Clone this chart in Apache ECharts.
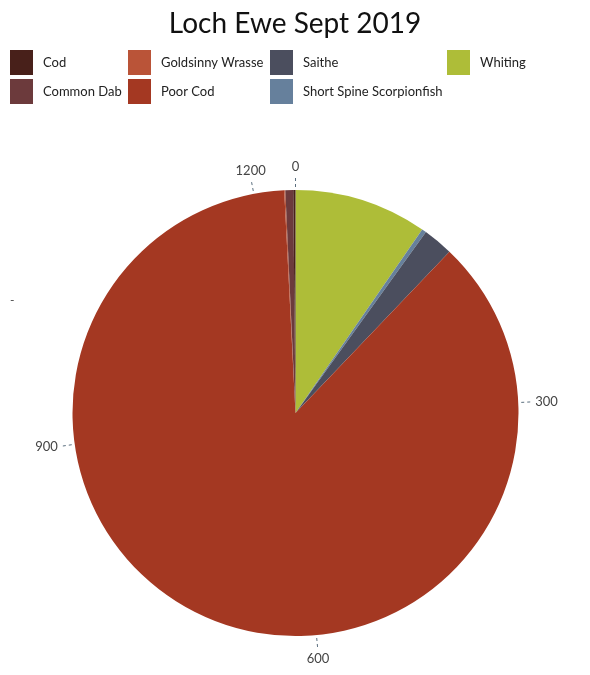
<!DOCTYPE html>
<html>
<head>
<meta charset="utf-8">
<script src="https://cdn.jsdelivr.net/npm/echarts@6/dist/echarts.min.js"></script>
<style>
  html, body { margin: 0; padding: 0; background: #fff; }
  #main { width: 590px; height: 675px; }
</style>
</head>
<body>
<div id="main"></div>
<script>
// catch per species, Loch Ewe Sept 2019
var species = ['Cod', 'Common Dab', 'Goldsinny Wrasse', 'Poor Cod', 'Saithe', 'Short Spine Scorpionfish', 'Whiting'];
var counts = [2, 7, 1, 1077, 27, 4, 119];
var colours = ['#48201a', '#6c3a3c', '#ba5438', '#a43822', '#4b4e5e', '#66809c', '#aebd38'];
var tickStep = 300;

var total = counts.reduce(function (a, b) { return a + b; }, 0);

// ggplot stacks the first level on top, so the last level starts at 0
var series = [];
for (var i = species.length - 1; i >= 0; i--) {
    series.push({
        type: 'bar',
        name: species[i],
        coordinateSystem: 'polar',
        stack: 'all',
        data: [counts[i]],
        barCategoryGap: '0%',
        itemStyle: { color: colours[i] }
    });
}

var legendCols = [
    { left: 10, names: ['Cod', 'Common Dab'] },
    { left: 128, names: ['Goldsinny Wrasse', 'Poor Cod'] },
    { left: 270, names: ['Saithe', 'Short Spine Scorpionfish'] },
    { left: 447, names: ['Whiting'] }
];

var legends = legendCols.map(function (c) {
    return {
        orient: 'vertical',
        left: c.left,
        top: 50,
        padding: 0,
        data: c.names,
        icon: 'rect',
        itemWidth: 23,
        itemHeight: 25,
        itemGap: 4,
        selectedMode: false,
        textStyle: { fontFamily: 'Lato', fontSize: 13, color: '#222', padding: [0, 0, 0, 5] }
    };
});

var chart = echarts.init(document.getElementById('main'));
chart.setOption({
    animation: false,
    title: {
        text: 'Loch Ewe Sept 2019',
        left: 'center',
        top: 5,
        textStyle: { fontFamily: 'Lato', fontSize: 28, fontWeight: 'normal', color: '#111' }
    },
    legend: legends,
    polar: { center: [295.5, 413], radius: 223 },
    angleAxis: {
        type: 'value',
        min: 0,
        max: total,
        interval: tickStep,
        startAngle: 90,
        clockwise: true,
        axisLine: { show: false },
        splitLine: { show: false },
        axisTick: { show: true, length: 12, lineStyle: { color: '#5a6e7e', type: [3, 3], width: 1 } },
        axisLabel: {
            margin: 17,
            fontFamily: 'Lato',
            fontSize: 13,
            color: '#444',
            showMaxLabel: false,
            formatter: function (v) { return v % tickStep === 0 ? String(v) : ''; }
        }
    },
    radiusAxis: {
        type: 'category',
        data: [''],
        show: false
    },
    graphic: [{
        type: 'text',
        left: 10,
        top: 294,
        style: { text: '-', fontFamily: 'Lato', fontSize: 12, fill: '#444' }
    }],
    series: series
});
</script>
</body>
</html>
